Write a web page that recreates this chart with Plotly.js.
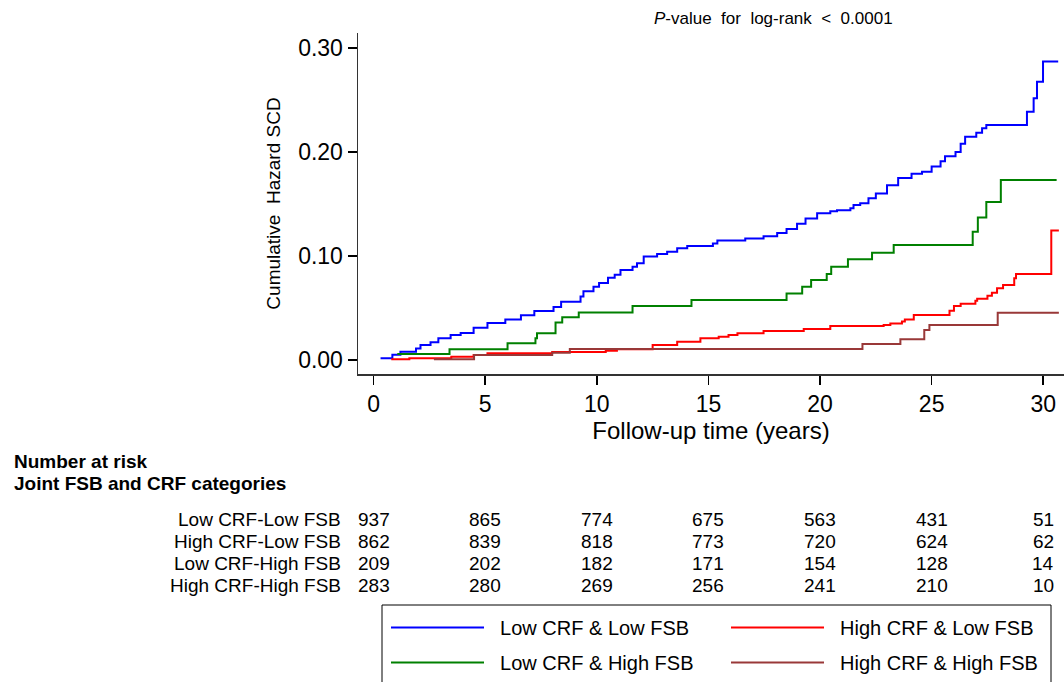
<!DOCTYPE html>
<html><head><meta charset="utf-8">
<script src="https://cdn.plot.ly/plotly-3.0.1.min.js"></script>
<style>html,body{margin:0;padding:0;background:#fff}#chart{width:1064px;height:682px}</style>
</head><body><div id="chart"></div>
<script>
// ---- data ----
const seriesNames = ['Low CRF & Low FSB', 'High CRF & Low FSB', 'Low CRF & High FSB', 'High CRF & High FSB'];
const seriesColors = ['#0000ff', '#ff0000', '#008000', '#993838'];

const lowLowT = [0.31,0.84,1.2,1.9,2.1,2.55,2.9,3.45,3.9,4.48,5.1,5.9,6.6,7.2,8.06,8.4,9.27,9.4,9.85,10.1,10.5,10.8,11.06,11.6,11.8,12.1,12.7,13.15,13.6,14.05,15.2,15.4,16.65,17.47,18.08,18.5,18.97,19.35,19.87,20.46,20.76,21.36,21.5,21.8,22.17,22.5,23.0,23.5,24.1,24.57,25.0,25.4,25.6,26.07,26.3,26.5,27.0,27.26,27.45,29.27,29.57,29.72,29.99,30.67];
const lowLowV = [0.0016,0.005,0.008,0.011,0.0144,0.017,0.021,0.024,0.026,0.031,0.0355,0.039,0.043,0.047,0.051,0.056,0.061,0.066,0.0705,0.074,0.079,0.082,0.0865,0.0897,0.093,0.0995,0.102,0.104,0.1075,0.1096,0.112,0.115,0.1167,0.119,0.122,0.126,0.131,0.136,0.141,0.143,0.144,0.146,0.149,0.1506,0.1556,0.160,0.168,0.175,0.179,0.181,0.186,0.191,0.196,0.200,0.208,0.2147,0.2186,0.2228,0.226,0.2388,0.2516,0.2676,0.2869,0.2869];

const highLowT = [0.79,1.6,3.48,4.48,5.1,8.0,10.4,10.9,12.5,13.6,14.64,15.46,15.9,16.3,17.47,19.27,20.46,22.85,23.15,23.67,23.8,24.2,25.8,26.0,26.3,26.96,27.04,27.5,27.7,27.93,28.2,28.7,28.78,30.36,30.7];
const highLowV = [0.0007,0.0016,0.0032,0.0048,0.0064,0.0077,0.009,0.0103,0.0144,0.0176,0.0208,0.0224,0.024,0.0256,0.0279,0.0298,0.0327,0.0337,0.035,0.0369,0.039,0.0433,0.0474,0.0519,0.054,0.057,0.059,0.0618,0.0647,0.069,0.072,0.0785,0.0827,0.1244,0.1244];

const lowHighT = [1.06,3.4,6.0,7.25,7.32,8.15,8.45,9.19,11.6,14.24,18.5,19.2,19.6,20.3,20.5,21.25,22.33,23.3,26.84,27.07,27.45,28.1,30.6];
const lowHighV = [0.0058,0.0103,0.016,0.0208,0.0256,0.036,0.041,0.0457,0.052,0.0577,0.064,0.0705,0.077,0.0827,0.0897,0.0968,0.103,0.1106,0.1234,0.137,0.152,0.173,0.173];

const highHighT = [2.7,4.5,8.0,8.79,21.9,23.6,24.67,24.9,27.96,30.7];
const highHighV = [0.0007,0.0048,0.007,0.0106,0.0153,0.0199,0.0288,0.0337,0.0455,0.0455];

const xTickVals = [0,5,10,15,20,25,30];
const yTickVals = [0,0.1,0.2,0.3];

const riskTimes = [0,5,10,15,20,25,30];
const riskLabels = ['Low CRF-Low FSB','High CRF-Low FSB','Low CRF-High FSB','High CRF-High FSB'];
const riskLowLow = [937,865,774,675,563,431,51];
const riskHighLow = [862,839,818,773,720,624,62];
const riskLowHigh = [209,202,182,171,154,128,14];
const riskHighHigh = [283,280,269,256,241,210,10];

// ---- build ----
const FONT = 'Liberation Sans, Arial, Helvetica, sans-serif';
const seriesT = [lowLowT, highLowT, lowHighT, highHighT];
const seriesV = [lowLowV, highLowV, lowHighV, highHighV];
const legendOf = ['legend', 'legend', 'legend2', 'legend2'];
const traces = seriesNames.map((n, i) => ({
  type: 'scatter', mode: 'lines', name: '\u00a0\u00a0' + n,
  x: seriesT[i], y: seriesV[i], legend: legendOf[i],
  line: {shape: 'hv', color: seriesColors[i], width: 2}
}));

const W = 1064, H = 682;
const mL = 358, mR = 0, mT = 33, mB = 308;
const plotW = W - mL - mR, plotH = H - mT - mB;
const px2paperX = px => (px - mL) / plotW;
const px2paperY = py => (H - mB - py) / plotH;

const ann = [];
ann.push({xref:'paper', yref:'paper', x: px2paperX(773), y: px2paperY(18), xanchor:'center', yanchor:'middle', showarrow:false,
  text:'<i>P</i>-value  for  log-rank  <  0.0001', font:{family:FONT, size:17, color:'#000'}});
ann.push({xref:'paper', yref:'paper', x: px2paperX(12), y: px2paperY(461), xanchor:'left', yanchor:'middle', showarrow:false,
  text:'<b>Number at risk</b>', font:{family:FONT, size:19, color:'#000'}});
ann.push({xref:'paper', yref:'paper', x: px2paperX(12), y: px2paperY(483), xanchor:'left', yanchor:'middle', showarrow:false,
  text:'<b>Joint FSB and CRF categories</b>', font:{family:FONT, size:19, color:'#000'}});
const riskRows = [riskLowLow, riskHighLow, riskLowHigh, riskHighHigh];
const rowY = [519, 541, 563, 585];
riskLabels.forEach((lab, r) => {
  ann.push({xref:'paper', yref:'paper', x: px2paperX(343), y: px2paperY(rowY[r]), xanchor:'right', yanchor:'middle', showarrow:false,
    text: lab, font:{family:FONT, size:19, color:'#000'}});
  riskTimes.forEach((t, c) => {
    ann.push({xref:'x', yref:'paper', x: t, y: px2paperY(rowY[r]), xanchor:'center', yanchor:'middle', showarrow:false,
      text: String(riskRows[r][c]), font:{family:FONT, size:19, color:'#000'}});
  });
});

const legendBase = {
  orientation: 'h', xanchor: 'left', yanchor: 'top',
  borderwidth: 0, bgcolor: 'rgba(0,0,0,0)',
  font: {family: FONT, size: 20, color: '#000'},
  itemwidth: 93, entrywidth: 232, entrywidthmode: 'pixels', traceorder: 'normal'
};

const layout = {
  width: W, height: H,
  margin: {l: mL, r: mR, t: mT, b: mB, pad: 0, autoexpand: false},
  paper_bgcolor: '#fff', plot_bgcolor: '#fff',
  font: {family: FONT, color: '#000'},
  showlegend: true,
  legend: Object.assign({}, legendBase, {x: px2paperX(386), y: px2paperY(608)}),
  legend2: Object.assign({}, legendBase, {x: px2paperX(386), y: px2paperY(643)}),
  shapes: [{type: 'rect', xref: 'paper', yref: 'paper', layer: 'below',
    x0: px2paperX(382), x1: px2paperX(1051), y0: px2paperY(605), y1: px2paperY(700),
    line: {color: '#000', width: 1}, fillcolor: 'rgba(0,0,0,0)'}],
  xaxis: {
    range: [-0.7, 30.93], tickvals: xTickVals, ticktext: xTickVals.map(String),
    showline: true, linecolor: '#333', linewidth: 1.5, ticks: 'outside', ticklen: 9, tickwidth: 1.5, tickcolor: '#000',
    showgrid: false, zeroline: false, tickfont: {family: FONT, size: 23, color: '#000'},
    title: {text: 'Follow-up time (years)', font: {family: FONT, size: 24, color: '#000'}, standoff: 4}
  },
  yaxis: {
    range: [-0.01346, 0.3144], tickvals: yTickVals, tickformat: '.2f',
    showline: true, linecolor: '#333', linewidth: 1.5, ticks: 'outside', ticklen: 9, tickwidth: 1.5, tickcolor: '#000',
    showgrid: false, zeroline: false, tickfont: {family: FONT, size: 23, color: '#000'},
    title: {text: 'Cumulative  Hazard SCD', font: {family: FONT, size: 19, color: '#000'}, standoff: 12}
  },
  annotations: ann
};

Plotly.newPlot('chart', traces, layout, {staticPlot: true, displayModeBar: false});
</script></body></html>
